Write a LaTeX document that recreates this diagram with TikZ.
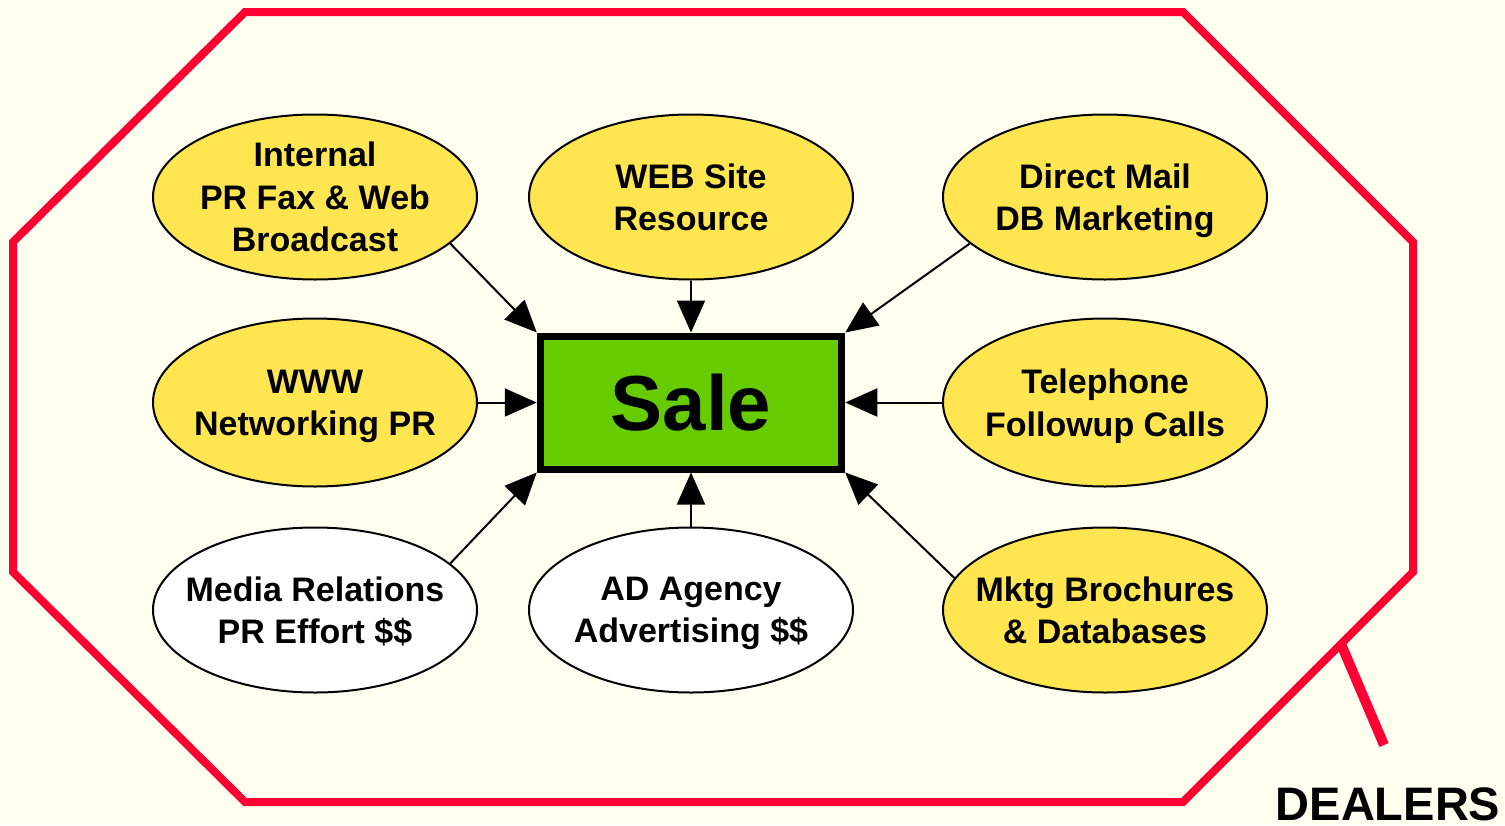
\documentclass[tikz,border=0pt]{standalone}
\usepackage{fontspec}
\setmainfont{Liberation Sans}
\usetikzlibrary{shapes.geometric,arrows.meta}
\definecolor{paper}{HTML}{FFFFF0}
\definecolor{fence}{HTML}{FF0033}
\definecolor{bubble}{HTML}{FFE650}
\definecolor{salegreen}{HTML}{66CC00}
\tikzset{
  bub/.style={ellipse, draw=black, line width=1pt, fill=bubble,
    minimum width=162pt, minimum height=82.5pt, inner sep=0pt},
  plain/.style={bub, fill=white},
  txt/.style={align=center, text depth=0pt,
    font=\bfseries\fontsize{17}{21.2}\selectfont},
  feed/.style={line width=1pt, -{Triangle[length=16pt,width=14pt]}},
}
\begin{document}
\begin{tikzpicture}[x=0.5pt,y=-0.5pt]
  \fill[paper] (0,0) rectangle (1505,825);
  \useasboundingbox (0,0) rectangle (1505,825);

  % dealer boundary
  \draw[fence, line width=4pt, line join=miter]
    (245,12) -- (1183,12) -- (1413,242) -- (1413,572) -- (1183,802)
    -- (245,802) -- (13,572) -- (13,242) -- cycle;
  \draw[fence, line width=5pt] (1341,644) -- (1384,745);
  \node[anchor=base, font=\bfseries\fontsize{23.5}{28}\selectfont] (dealers)
    at (1388,820) {DEALERS};

  % central box
  \node[draw=black, line width=3.5pt, fill=salegreen, minimum width=150.75pt,
    minimum height=66.5pt, inner sep=0pt,
    font=\bfseries\fontsize{39}{44}\selectfont] (sale) at (691,402.5) {Sale};

  % sources
  \node[bub] (int) at (315,197)
    {}; \node[txt] (intT) at (int) {Internal\\PR Fax \& Web\\Broadcast};
  \node[bub] (web) at (691,197)
    {}; \node[txt] (webT) at (web) {WEB Site\\Resource};
  \node[bub] (dm) at (1105,197)
    {}; \node[txt] (dmT) at (dm) {Direct Mail\\DB Marketing};
  \node[bub, minimum height=84pt] (www) at (315,402.5)
    {}; \node[txt] (wwwT) at (www) {WWW\\Networking PR};
  \node[bub, minimum height=84pt] (tel) at (1105,402.5)
    {}; \node[txt] (telT) at (tel) {Telephone\\Followup Calls};
  \node[plain] (med) at (315,610)
    {}; \node[txt] (medT) at (med) {Media Relations\\PR Effort \$\$};
  \node[plain] (ad) at (691,610)
    {}; \node[txt] (adT) at (ad) {AD Agency\\Advertising \$\$};
  \node[bub] (mk) at (1105,610)
    {}; \node[txt] (mkT) at (mk) {Mktg Brochures\\\& Databases};

  % connectors
  \draw[feed] (int.-19) -- (sale.north west);
  \draw[feed] (web.south) -- (sale.north);
  \draw[feed] (dm.-161) -- (sale.north east);
  \draw[feed] (www.east) -- (sale.west);
  \draw[feed] (tel.west) -- (sale.east);
  \draw[feed] (med.19) -- (sale.south west);
  \draw[feed] (ad.north) -- (sale.south);
  \draw[feed] (mk.168) -- (sale.south east);
\end{tikzpicture}
\end{document}
